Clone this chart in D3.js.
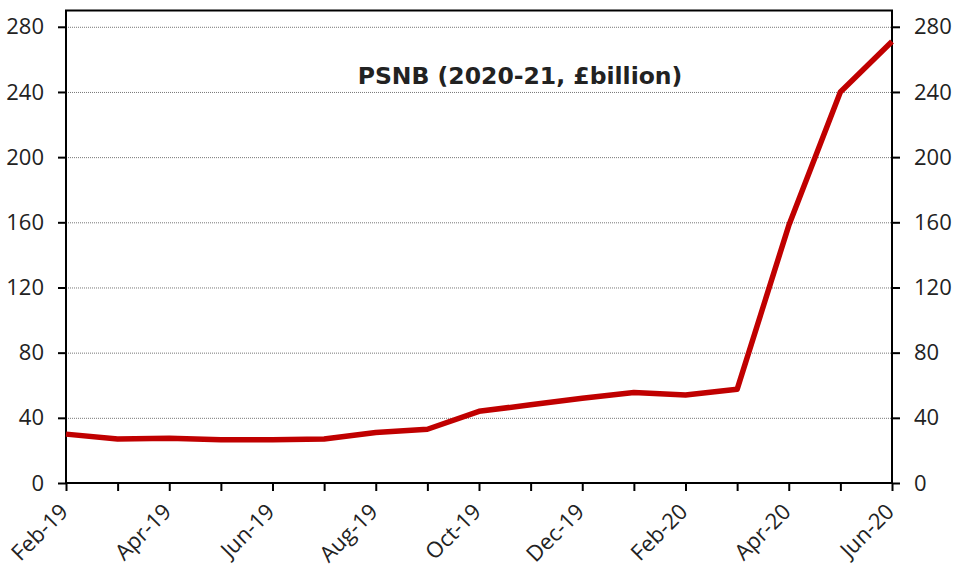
<!DOCTYPE html>
<html>
<head>
<meta charset="utf-8">
<script src="https://cdn.jsdelivr.net/npm/d3@7"></script>
<style>
  body { margin: 0; background: #fff; }
  svg text { font-family: "Open Sans", "Noto Sans", sans-serif; fill: #222; }
</style>
</head>
<body>
<div id="chart"></div>
<script>
// months, Feb-19 .. Jun-20
var months = ['Feb-19', 'Mar-19', 'Apr-19', 'May-19', 'Jun-19', 'Jul-19', 'Aug-19', 'Sep-19',
              'Oct-19', 'Nov-19', 'Dec-19', 'Jan-20', 'Feb-20', 'Mar-20', 'Apr-20', 'May-20', 'Jun-20'];

// PSNB forecast for 2020-21, £bn
var psnb = [30, 27, 27.5, 26.5, 26.6, 27, 31, 33, 44, 48, 52, 55.5, 54, 57.5, 158, 240, 271];

var yTicks = [0, 40, 80, 120, 160, 200, 240, 280];

var title = 'PSNB (2020-21, £billion)';

var width = 960, height = 572;
var margin = {top: 10.5, right: 68, bottom: 89, left: 66};

var svg = d3.select('#chart').append('svg')
    .attr('width', width)
    .attr('height', height);

var x = d3.scalePoint()
    .domain(months)
    .range([margin.left, width - margin.right]);

var y = d3.scaleLinear()
    .domain([0, 290])
    .range([height - margin.bottom, margin.top]);

// gridlines
svg.append('g')
    .selectAll('line')
    .data(yTicks.slice(1))
    .enter().append('line')
        .attr('x1', margin.left)
        .attr('x2', width - margin.right)
        .attr('y1', function(d){ return y(d) + 0.5; })
        .attr('y2', function(d){ return y(d) + 0.5; })
        .attr('stroke', '#777')
        .attr('stroke-width', 1)
        .attr('stroke-dasharray', '1,1');

// left axis
var left = svg.append('g')
    .attr('transform', 'translate(' + margin.left + ',0)')
    .call(d3.axisLeft(y).tickValues(yTicks).tickSize(8).tickPadding(14));

// right axis
var right = svg.append('g')
    .attr('transform', 'translate(' + (width - margin.right) + ',0)')
    .call(d3.axisRight(y).tickValues(yTicks).tickSize(8).tickPadding(14));

// bottom axis
var bottom = svg.append('g')
    .attr('transform', 'translate(0,' + (height - margin.bottom) + ')')
    .call(d3.axisBottom(x).tickSize(8).tickFormat(function(d, i){ return i % 2 ? '' : d; }));

bottom.selectAll('text')
    .attr('text-anchor', 'end')
    .attr('x', 0)
    .attr('y', 0)
    .attr('dy', '0')
    .attr('transform', 'translate(3,30) rotate(-45)');

[left, right, bottom].forEach(function(g){
    g.selectAll('.domain').remove();
    g.selectAll('line').attr('stroke', '#000').attr('stroke-width', 2);
    g.selectAll('text').style('font-size', '22px').attr('fill', '#222');
});

// plot frame
svg.append('rect')
    .attr('x', margin.left)
    .attr('y', margin.top)
    .attr('width', width - margin.left - margin.right)
    .attr('height', height - margin.top - margin.bottom)
    .attr('fill', 'none')
    .attr('stroke', '#000')
    .attr('stroke-width', 2);

// line
var line = d3.line()
    .x(function(d, i){ return x(months[i]); })
    .y(function(d){ return y(d); });

svg.append('path')
    .datum(psnb)
    .attr('d', line)
    .attr('fill', 'none')
    .attr('stroke', '#C00000')
    .attr('stroke-width', 5.5)
    .attr('stroke-linejoin', 'round');

// title
svg.append('text')
    .attr('x', 520)
    .attr('y', 84)
    .attr('text-anchor', 'middle')
    .style('font-family', '"DejaVu Sans", sans-serif')
    .style('font-size', '23.5px')
    .style('font-weight', 'bold')
    .attr('fill', '#111')
    .text(title);
</script>
</body>
</html>
